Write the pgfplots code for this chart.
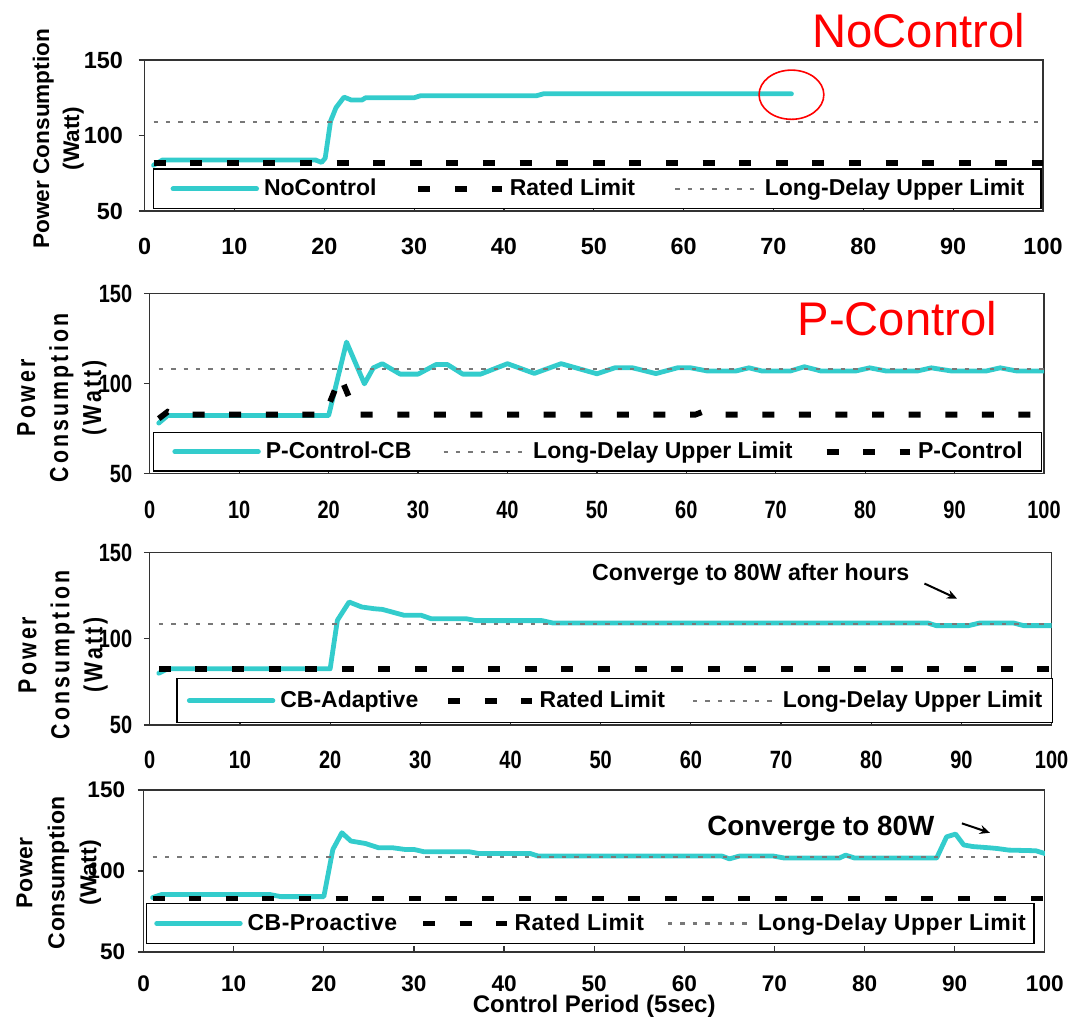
\documentclass[border=0pt]{standalone}
\usepackage{fontspec}
\setmainfont{Liberation Sans}
\newfontfamily\cnd[FakeStretch=0.8]{Liberation Sans}
\newfontfamily\cndsp[FakeStretch=0.82,LetterSpace=12]{Liberation Sans}
\newfontfamily\spc[LetterSpace=2]{Liberation Sans}
\usepackage{pgfplots}
\pgfplotsset{compat=1.18}
\usetikzlibrary{arrows.meta}

\definecolor{cbcyan}{RGB}{51,204,204}
\definecolor{ldgray}{RGB}{120,120,120}

\tikzset{
  cyanline/.style={cbcyan, line width=2.4pt, line cap=round, line join=round},
  ratedline/.style={black, line width=2.9pt, dash pattern=on 6pt off 12.3pt},
  ldline/.style={ldgray, line width=1.1pt, dash pattern=on 2.2pt off 4pt},
}

\pgfplotsset{
  panel/.style={
    scale only axis, anchor=south west, clip mode=individual,
    xmin=0, xmax=100, ymin=50, ymax=150,
    xtick={0,10,...,100}, ytick={50,100,150},
    tick pos=left, xtick align=inside, ytick align=outside,
    major tick length=3pt,
    axis line style={black!80, line width=0.6pt},
    tick style={black!80, line width=0.6pt},
    /pgf/number format/assume math mode=true,
    legend columns=3, legend cell align=left,
    legend image code/.code={\draw[##1] (0.6pt,0pt) -- (42.4pt,0pt);},
  },
}

\begin{document}
\begin{tikzpicture}
\useasboundingbox (0,0) rectangle (534pt,508pt);

% ---------------- NoControl
\begin{axis}[panel, at={(72.3pt,402.5pt)}, width=449.2pt, height=75.5pt,
  tick label style={font=\bfseries\fontsize{11.7}{13}\selectfont},
  xticklabel style={anchor=north, inner sep=0pt, yshift=-13.3pt},
  yticklabel style={anchor=east, inner sep=0pt, xshift=-7.6pt},
  ylabel={Power Consumption\\(Watt)},
  ylabel style={at={(axis description cs:-0.096,0.479)}, anchor=center, align=center,
    font=\bfseries\fontsize{11.3}{15}\selectfont},
  legend style={at={(0.0096,0.011)}, anchor=south west, draw=black, line width=0.6pt, fill=white,
    font=\bfseries\fontsize{11.5}{13}\selectfont, inner xsep=8.4pt, inner ysep=2pt,
    nodes={inner xsep=0pt, inner ysep=3pt},
    /tikz/every odd column/.append style={column sep=2.5pt},
    /tikz/every even column/.append style={column sep=19.5pt}},
]
\addplot[cyanline] coordinates {
  (1,80.3) (2,83.8) (19,83.8) (19.7,82.2) (20.1,85) (20.7,109.5) (21.3,118.4)
  (22.2,125.4) (23,123.5) (24.2,123.5) (24.6,125) (30,125) (30.7,126.3)
  (43.6,126.3) (44.4,127.6) (72,127.6)
};
\addlegendentry{NoControl}
\addplot[ratedline] coordinates {(1,81.8) (100,81.8)};
\addlegendentry{Rated Limit}
\addplot[ldline] coordinates {(1,109.1) (100,109.1)};
\addlegendentry{Long-Delay Upper Limit}
\draw[red, line width=0.8pt] (axis cs:72,127) ellipse [x radius=16.2pt, y radius=12.3pt];
\node[anchor=base west, inner sep=0pt, text=red, font=\fontsize{23.6}{28}\selectfont]
  at (axis cs:74.3,158.2) {NoControl};
\end{axis}

% ---------------- P-Control
\begin{axis}[panel, at={(74.9pt,271.25pt)}, width=447.1pt, height=90pt,
  tick label style={font=\cnd\bfseries\fontsize{12.5}{14}\selectfont},
  xticklabel style={anchor=north, inner sep=0pt, yshift=-13.8pt},
  yticklabel style={anchor=east, inner sep=0pt, xshift=-5.6pt},
  ylabel={Power\\Consumption\\(Watt)},
  ylabel style={at={(axis description cs:-0.0983,0.42)}, anchor=center, align=center,
    font=\cndsp\bfseries\fontsize{13}{16.5}\selectfont},
  legend style={at={(0.0038,0.011)}, anchor=south west, draw=black, line width=0.6pt, fill=white,
    font=\bfseries\fontsize{11.5}{13}\selectfont, inner xsep=9.3pt, inner ysep=2pt,
    nodes={inner xsep=0pt, inner ysep=2.7pt},
    /tikz/every odd column/.append style={column sep=2.5pt},
    /tikz/every even column/.append style={column sep=15.5pt}},
]
\addplot[cyanline] coordinates {
  (1,78) (2,82.2) (20,82.2) (22,123) (24,99.8) (25,108.7) (26,111) (28,105.2)
  (30,105.2) (32,110.5) (33.3,110.5) (35,105.2) (37,105.2) (40,111) (43,105.6)
  (46,111) (50,105.4) (52,108.7) (54,108.7) (56.6,105.5) (59,108.7) (60.5,108.7)
  (62.4,106.9) (65.5,106.9) (67,108.7) (68.5,106.9) (71.6,106.9) (73.2,109.3)
  (75.1,106.9) (78.9,106.9) (80.5,108.7) (82.4,106.9) (85.8,106.9) (87.4,108.7)
  (89.7,106.9) (93.5,106.9) (95.1,108.7) (97,106.9) (100,106.9)
};
\addlegendentry{P-Control-CB}
\addplot[ldline] coordinates {(1,108) (100,108)};
\addlegendentry{Long-Delay Upper Limit}
\addplot[ratedline] coordinates {
  (1,80.5) (2,84.3) (3,82.7) (19.6,82.7) (21.3,104) (23.1,82.7) (61,82.7)
  (61.8,84.2) (62.6,82.7) (100,82.7)
};
\addlegendentry{P-Control}
\node[anchor=base west, inner sep=0pt, text=red, font=\fontsize{23.6}{28}\selectfont]
  at (axis cs:72.4,126.8) {P-Control};
\end{axis}

% ---------------- CB-Adaptive
\begin{axis}[panel, at={(74.9pt,145.5pt)}, width=450.9pt, height=86.25pt,
  tick label style={font=\cnd\bfseries\fontsize{12.5}{14}\selectfont},
  xticklabel style={anchor=north, inner sep=0pt, yshift=-12.8pt},
  yticklabel style={anchor=east, inner sep=0pt, xshift=-5.6pt},
  ylabel={Power\\Consumption\\(Watt)},
  ylabel style={at={(axis description cs:-0.096,0.406)}, anchor=center, align=center,
    font=\cndsp\bfseries\fontsize{13}{16.5}\selectfont},
  legend style={at={(0.0294,0.011)}, anchor=south west, draw=black, line width=0.6pt, fill=white,
    font=\bfseries\fontsize{11.5}{13}\selectfont, inner xsep=5pt, inner ysep=3pt,
    nodes={inner xsep=0pt, inner ysep=3pt},
    /tikz/every odd column/.append style={column sep=2.5pt},
    /tikz/every even column/.append style={column sep=13.5pt}},
]
\addplot[cyanline] coordinates {
  (1,80) (2,82.6) (20,82.6) (20.8,110.7) (22.1,121.3) (23.5,118.4) (24.9,117.4)
  (25.8,117) (28.2,113.6) (30.1,113.6) (31.2,111.6) (35.1,111.6) (36.2,110.5)
  (43.5,110.5) (44.7,109.1) (86.3,109.1) (87.2,107.6) (90.8,107.6) (92,109.1)
  (95.8,109.1) (96.9,107.6) (100,107.6)
};
\addlegendentry{CB-Adaptive}
\addplot[ratedline] coordinates {(1,82.6) (100,82.6)};
\addlegendentry{Rated Limit}
\addplot[ldline] coordinates {(1,108.7) (100,108.7)};
\addlegendentry{Long-Delay Upper Limit}
\node[anchor=base west, inner sep=0pt, font=\bfseries\fontsize{11.6}{14}\selectfont]
  at (axis cs:49,133.9) {Converge to 80W after hours};
\draw[-{Stealth[length=5pt,width=4.5pt]}, line width=1pt] (axis cs:85.9,132) -- (axis cs:89.5,123.3);
\end{axis}

% ---------------- CB-Proactive
\begin{axis}[panel, at={(71.8pt,32pt)}, width=450.6pt, height=81pt,
  tick label style={font=\bfseries\fontsize{11.3}{13}\selectfont},
  xticklabel style={anchor=north, inner sep=0pt, yshift=-11.5pt},
  yticklabel style={anchor=east, inner sep=0pt, xshift=-6pt},
  ylabel={Power\\Consumption\\(Watt)},
  ylabel style={at={(axis description cs:-0.094,0.49)}, anchor=center, align=center,
    font=\spc\bfseries\fontsize{11.5}{16}\selectfont},
  xlabel={Control Period (5sec)},
  xlabel style={at={(axis description cs:0.5,-0.3765)}, anchor=base, inner sep=0pt,
    font=\bfseries\fontsize{12}{14}\selectfont},
  legend style={at={(0.0023,0.05)}, anchor=south west, draw=black, line width=0.6pt, fill=white,
    font=\spc\bfseries\fontsize{11.5}{13}\selectfont, inner xsep=4pt, inner ysep=2pt,
    nodes={inner xsep=0pt, inner ysep=3pt},
    /tikz/every odd column/.append style={column sep=2.5pt},
    /tikz/every even column/.append style={column sep=11.5pt}},
]
\addplot[cyanline] coordinates {
  (1,83.6) (2,85.5) (14,85.5) (15.2,84.2) (20,84.2) (21,113.3) (22,123.6) (23,118.5)
  (24.6,117) (26.1,114.3) (27.7,114.3) (29,113.3) (30,113.3) (31.1,111.9) (36.1,111.9)
  (37.2,110.8) (42.9,110.8) (43.8,109.2) (64.2,109.2) (65,107.5) (66.1,109.2)
  (69.9,109.2) (71.1,108) (77.2,108) (77.9,109.8) (78.9,108) (88,108) (89.1,121.1)
  (90.1,122.8) (91,116.1) (92,115.1) (93.9,114.3) (94.7,113.9) (96,112.9) (99,112.5)
  (100,110.8)
};
\addlegendentry{CB-Proactive}
\addplot[ratedline] coordinates {(1,83) (100,83)};
\addlegendentry{Rated Limit}
\addplot[ldline] coordinates {(1,108.6) (100,108.6)};
\addlegendentry{Long-Delay Upper Limit}
\node[anchor=base west, inner sep=0pt, font=\bfseries\fontsize{13.9}{16}\selectfont]
  at (axis cs:62.5,122.2) {Converge to 80W};
\draw[-{Stealth[length=5pt,width=4.5pt]}, line width=1pt] (axis cs:90.8,129.4) -- (axis cs:93.9,123.6);
\end{axis}
\end{tikzpicture}
\end{document}
